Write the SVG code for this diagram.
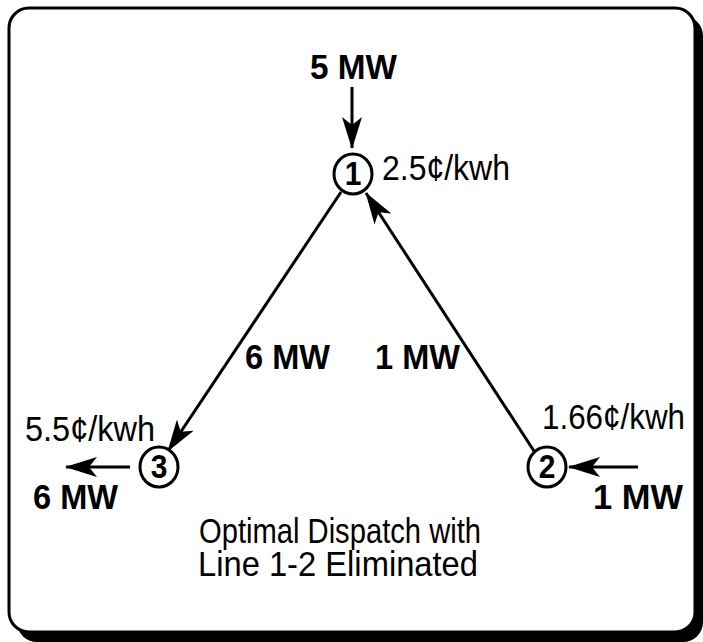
<svg xmlns="http://www.w3.org/2000/svg" width="703" height="642" viewBox="0 0 703 642">
  <defs>
    <marker id="head" viewBox="0 0 32 20" refX="31" refY="10" markerWidth="32" markerHeight="20" markerUnits="userSpaceOnUse" orient="auto">
      <path d="M0,0 L32,10 L0,20 L8,10 Z" fill="#000"/>
    </marker>
    <style>
      .lbl { font-family: "Liberation Sans", Arial, sans-serif; font-size: 32px; fill: #000; }
      .bold { font-weight: bold; }
      .node ellipse { fill: #fff; stroke: #000; stroke-width: 3; }
      .node text { font-family: "Liberation Sans", Arial, sans-serif; font-size: 30px; font-weight: bold; text-anchor: middle; }
      .wire { stroke: #000; stroke-width: 3; fill: none; marker-end: url(#head); }
    </style>
  </defs>

  <rect width="703" height="642" fill="#fff"/>

  <!-- frame with drop shadow -->
  <g id="frame">
    <rect x="17" y="16" width="686" height="626" rx="20" fill="#000"/>
    <rect x="9" y="8" width="686" height="624" rx="20" fill="#fff" stroke="#000" stroke-width="3"/>
  </g>

  <!-- connectors -->
  <g id="connectors">
    <line class="wire" x1="352" y1="87" x2="352" y2="148"/>
    <line class="wire" x1="341" y1="192" x2="168" y2="451"/>
    <line class="wire" x1="534" y1="451" x2="366" y2="193"/>
    <line class="wire" x1="130" y1="467" x2="66" y2="467"/>
    <line class="wire" x1="638" y1="467" x2="569" y2="467"/>
  </g>

  <!-- buses -->
  <g id="bus1" class="node">
    <ellipse cx="353" cy="174" rx="19" ry="20"/>
    <text transform="translate(353,185) scale(1,1.1)">1</text>
  </g>
  <g id="bus2" class="node">
    <ellipse cx="547" cy="467" rx="19" ry="20"/>
    <text transform="translate(547,478) scale(1,1.1)">2</text>
  </g>
  <g id="bus3" class="node">
    <ellipse cx="159" cy="467" rx="19" ry="20"/>
    <text transform="translate(159,478) scale(1,1.1)">3</text>
  </g>

  <!-- labels (slightly tall lettering) -->
  <g id="labels">
    <text class="lbl bold" transform="translate(310,79) scale(1,1.1)" textLength="87" lengthAdjust="spacingAndGlyphs">5 MW</text>
    <text class="lbl" transform="translate(382,180) scale(1,1.1)" textLength="128" lengthAdjust="spacingAndGlyphs">2.5¢/kwh</text>
    <text class="lbl bold" transform="translate(245,369) scale(1,1.1)" textLength="85" lengthAdjust="spacingAndGlyphs">6 MW</text>
    <text class="lbl bold" transform="translate(375,369) scale(1,1.1)" textLength="85" lengthAdjust="spacingAndGlyphs">1 MW</text>
    <text class="lbl" transform="translate(25,441) scale(1,1.1)" textLength="130" lengthAdjust="spacingAndGlyphs">5.5¢/kwh</text>
    <text class="lbl" transform="translate(542,429) scale(1,1.1)" textLength="143" lengthAdjust="spacingAndGlyphs">1.66¢/kwh</text>
    <text class="lbl bold" transform="translate(33,509) scale(1,1.1)" textLength="85" lengthAdjust="spacingAndGlyphs">6 MW</text>
    <text class="lbl bold" transform="translate(593,509) scale(1,1.1)" textLength="90" lengthAdjust="spacingAndGlyphs">1 MW</text>
    <text class="lbl" transform="translate(198,543) scale(1,1.1)">
      <tspan x="1" y="0" textLength="282" lengthAdjust="spacingAndGlyphs">Optimal Dispatch with</tspan>
      <tspan x="0" y="30" textLength="280" lengthAdjust="spacingAndGlyphs">Line 1-2 Eliminated</tspan>
    </text>
  </g>
</svg>
